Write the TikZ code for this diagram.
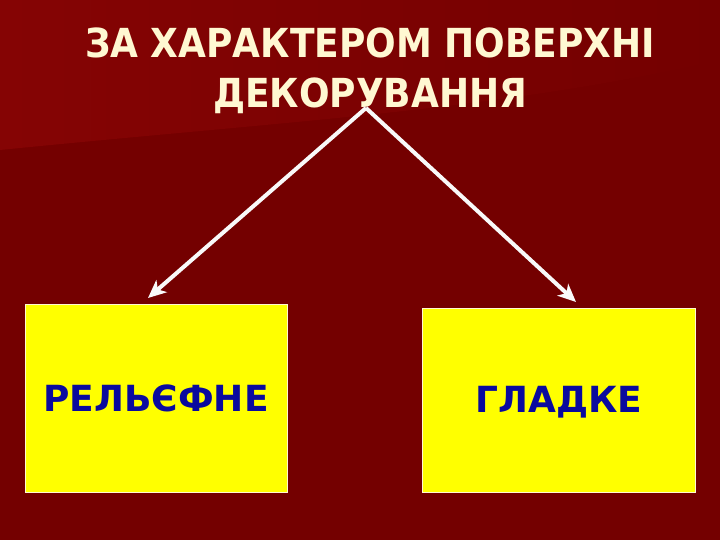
\documentclass[tikz,border=0pt]{standalone}
\usepackage{fontspec}
\setmainfont{DejaVu Sans}
\newfontfamily\condfont{DejaVu Sans Condensed}[BoldFont={DejaVu Sans Condensed Bold}]
\usetikzlibrary{arrows.meta}
\definecolor{bgred}{HTML}{740000}
\definecolor{bglight}{HTML}{850404}
\definecolor{titlecol}{HTML}{FFF8D2}
\definecolor{boxyellow}{HTML}{FFFF00}
\definecolor{textblue}{HTML}{0A0A9E}
\tikzset{
  box/.style={fill=boxyellow, draw=titlecol, line width=0.8pt, inner sep=0pt},
  boxtext/.style={font=\bfseries\fontsize{36}{40}\selectfont, text=textblue},
  link/.style={draw=white!95!gray, line width=4pt, -{Stealth[length=18pt,width=16pt,inset=5pt]}},
}
\begin{document}
\begin{tikzpicture}[x=1pt,y=-1pt]
\useasboundingbox (0,0) rectangle (720,540);
\fill[bgred] (0,0) rectangle (720,540);
\shade[left color=bglight, right color=bgred, shading angle=90] (0,0) -- (720,0) -- (720,60) .. controls (500,110) and (300,120) .. (0,150) -- cycle;
% title
\node (title) [font=\condfont\bfseries\fontsize{40}{50}\selectfont, text=titlecol, align=center] at (370,71) {ЗА ХАРАКТЕРОМ ПОВЕРХНІ\\ДЕКОРУВАННЯ};
\coordinate (apex) at (366,108);
% boxes
\node (left) [box, minimum width=262pt, minimum height=188pt] at (156,398) {};
\node (right) [box, minimum width=273pt, minimum height=184pt] at (558.5,400) {};
\node (ltext) [boxtext] at (156,398) {РЕЛЬЄФНЕ};
\node (rtext) [boxtext] at (559,402) {ГЛАДКЕ};
% connectors
\coordinate (lend) at (148,298);
\coordinate (rend) at (576,302);
\draw[link] (apex) -- (lend);
\draw[link] (apex) -- (rend);
\end{tikzpicture}
\end{document}
